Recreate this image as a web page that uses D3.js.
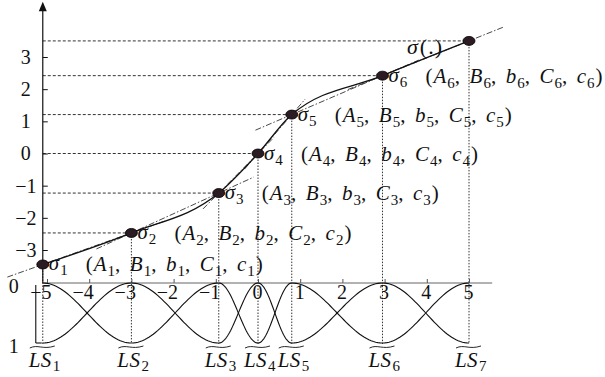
<!DOCTYPE html>
<html>
<head>
<meta charset="utf-8">
<script src="https://cdn.jsdelivr.net/npm/d3@7"></script>
<style>
  html, body { margin: 0; padding: 0; background: #fff; }
  svg { display: block; font-family: "Liberation Serif", "DejaVu Serif", serif; }
</style>
</head>
<body>
<svg id="chart" width="605" height="377"></svg>
<script>
// Breakpoints of the piecewise activation sigma(.)
const breakX = [-5.1, -3, -0.93, 0, 0.8, 2.95, 5];
const breakY = [-3.45, -2.47, -1.23, 0, 1.21, 2.42, 3.5];
// Axis ticks
const xTickValues = [-5, -4, -3, -2, -1, 0, 1, 2, 3, 4, 5];
const yTickValues = [-3, -2, -1, 0, 1, 2, 3];
const membershipTicks = [0, 1];
// Parameters of each local linear piece
const paramNames = ["A", "B", "b", "C", "c"];

const svg = d3.select("#chart");
const ink = "#111";
const intFmt = d3.format("d");

const x = d3.scaleLinear().domain([-5, 5]).range([47, 469]);
const y = d3.scaleLinear().domain([-3, 3]).range([250, 57]);
const mu = d3.scaleLinear().domain([0, 1]).range([283, 343]);

const axisX = x(breakX[0]);
const pts = breakX.map((v, i) => ({ i, x: x(v), y: y(breakY[i]) }));

// Helper: math-like text built from tspans (italic symbols, upright subscripts)
function mathText(g, parts, size, subSize, drop) {
  const t = g.append("text").attr("font-size", size).attr("fill", ink);
  let low = false;
  parts.forEach(p => {
    const s = t.append("tspan").text(p.t);
    if (p.it) s.attr("font-style", "italic");
    if (p.sub) {
      s.attr("font-size", subSize);
      if (!low) { s.attr("dy", drop); low = true; }
    } else if (low) { s.attr("dy", -drop); low = false; }
    if (p.dx) s.attr("dx", p.dx);
  });
  return t;
}

// ---------- guide lines ----------
const guides = svg.append("g");
guides.selectAll("line.h").data(pts).join("line")
  .attr("x1", axisX).attr("x2", d => d.x)
  .attr("y1", d => d.y).attr("y2", d => d.y)
  .attr("stroke", "#333").attr("stroke-width", 1)
  .attr("stroke-dasharray", "3,2");
guides.selectAll("line.v").data(pts).join("line")
  .attr("x1", d => d.x).attr("x2", d => d.x)
  .attr("y1", d => d.y).attr("y2", mu(1) + 1)
  .attr("stroke", "#333").attr("stroke-width", 1)
  .attr("stroke-dasharray", "1.5,1.5");

// ---------- axes ----------
const yAxis = svg.append("g")
  .attr("transform", `translate(${axisX},0)`)
  .call(d3.axisLeft(y).tickValues(yTickValues).tickFormat(intFmt).tickSize(-5).tickPadding(17));
yAxis.select(".domain").remove();
yAxis.selectAll(".tick line").attr("stroke", ink);
yAxis.selectAll(".tick text")
  .attr("text-anchor", "middle").attr("font-size", 20)
  .attr("font-family", "Liberation Serif").attr("fill", ink);

svg.append("line")
  .attr("x1", axisX).attr("x2", axisX)
  .attr("y1", mu(0)).attr("y2", y(4.45))
  .attr("stroke", ink).attr("stroke-width", 1.2);
svg.append("path")
  .attr("d", d3.line()([[axisX - 4, y(4.42)], [axisX + 4, y(4.42)], [axisX, y(4.72)]]) + "Z")
  .attr("fill", ink);

const xAxis = svg.append("g")
  .attr("transform", `translate(0,${mu(0)})`)
  .call(d3.axisBottom(x).tickValues(xTickValues).tickFormat(intFmt).tickSize(-4).tickPadding(2));
xAxis.select(".domain").remove();
xAxis.selectAll(".tick line").attr("stroke", "#555");
xAxis.selectAll(".tick text")
  .attr("text-anchor", "end").attr("dx", 4).attr("font-size", 20)
  .attr("font-family", "Liberation Serif").attr("fill", ink);
svg.append("line")
  .attr("x1", axisX).attr("x2", x(5.55))
  .attr("y1", mu(0)).attr("y2", mu(0))
  .attr("stroke", "#666").attr("stroke-width", 1.2);

// membership axis (0 at top, 1 at bottom)
const memX = axisX - 7;
svg.append("line")
  .attr("x1", memX).attr("x2", memX)
  .attr("y1", mu(0) + 2).attr("y2", mu(1))
  .attr("stroke", ink).attr("stroke-width", 1.1);
svg.append("line")
  .attr("x1", memX).attr("x2", memX + 6)
  .attr("y1", mu(1)).attr("y2", mu(1))
  .attr("stroke", ink).attr("stroke-width", 1.1);
svg.selectAll("text.mem").data(membershipTicks).join("text")
  .attr("x", memX - 22).attr("y", d => mu(d) + 3)
  .attr("dy", "0.35em").attr("text-anchor", "middle")
  .attr("font-size", 20).attr("fill", ink)
  .text(d => d);

// ---------- membership functions LS_1 ... LS_7 ----------
const memLine = d3.line().x(d => x(d[0])).y(d => mu(d[1]));
breakX.forEach((c, i) => {
  const sides = [];
  if (i > 0) sides.push(breakX[i - 1]);
  if (i < breakX.length - 1) sides.push(breakX[i + 1]);
  sides.forEach(n => {
    const samples = d3.range(0, 41).map(k => {
      const t = c + (n - c) * k / 40;
      return [t, 0.5 * (1 + Math.cos(Math.PI * (t - c) / (n - c)))];
    });
    svg.append("path").attr("d", memLine(samples))
      .attr("fill", "none").attr("stroke", ink).attr("stroke-width", 1.1);
  });
});

// ---------- local linear pieces (dash-dot, extended beyond the segment) ----------
const ext = 0.4;
d3.pairs(pts).forEach(([a, b]) => {
  const dx = b.x - a.x, dy = b.y - a.y;
  svg.append("line")
    .attr("x1", a.x - ext * dx).attr("y1", a.y - ext * dy)
    .attr("x2", b.x + ext * dx).attr("y2", b.y + ext * dy)
    .attr("stroke", "#333").attr("stroke-width", 0.9)
    .attr("stroke-dasharray", "6,2,1.5,2");
});

// ---------- sigma(.) curve ----------
svg.append("path")
  .attr("d", d3.line().x(d => d.x).y(d => d.y).curve(d3.curveMonotoneX)(pts))
  .attr("fill", "none").attr("stroke", ink).attr("stroke-width", 1.3);

svg.selectAll("ellipse.pt").data(pts).join("ellipse")
  .attr("cx", d => d.x).attr("cy", d => d.y)
  .attr("rx", 6).attr("ry", 4.5)
  .attr("fill", "#2b1b22").attr("stroke", "#000").attr("stroke-width", 0.8);

// ---------- labels ----------
const labels = svg.append("g");
pts.slice(0, 6).forEach(p => {
  const k = String(p.i + 1);
  mathText(labels, [{ t: "σ", it: true }, { t: k, sub: true, dx: 1 }], 21, 15, 5)
    .attr("x", p.x + 6).attr("y", p.y + 6);
  const parts = [{ t: "(" }];
  paramNames.forEach((n, j) => {
    parts.push({ t: n, it: true, dx: j ? 9.5 : 1 });
    parts.push({ t: k, sub: true, dx: 1 });
    parts.push({ t: j < paramNames.length - 1 ? "," : ")", dx: j < paramNames.length - 1 ? 0 : 1 });
  });
  mathText(labels, parts, 21, 15, 5)
    .attr("x", p.x + 43).attr("y", p.y + 7);
});
const last = pts[pts.length - 1];
mathText(labels, [{ t: "σ", it: true }, { t: "(.)", dx: 1 }], 22, 15, 5)
  .attr("x", last.x - 62).attr("y", last.y + 13)
  .attr("letter-spacing", 1);

// LS labels with a wide tilde
pts.forEach(p => {
  const k = String(p.i + 1);
  mathText(labels, [{ t: "LS", it: true }, { t: k, sub: true, dx: 1 }], 21, 15, 4)
    .attr("x", p.x + 2).attr("y", 367).attr("text-anchor", "middle")
    .attr("letter-spacing", 0.5);
  const x0 = p.x - 13, x1 = p.x + 12, ty = 347;
  labels.append("path")
    .attr("d", `M${x0},${ty + 1} C${x0 + 8},${ty - 3} ${x1 - 12},${ty + 3} ${x1},${ty - 1}`)
    .attr("fill", "none").attr("stroke", ink).attr("stroke-width", 0.9);
});
</script>
</body>
</html>
